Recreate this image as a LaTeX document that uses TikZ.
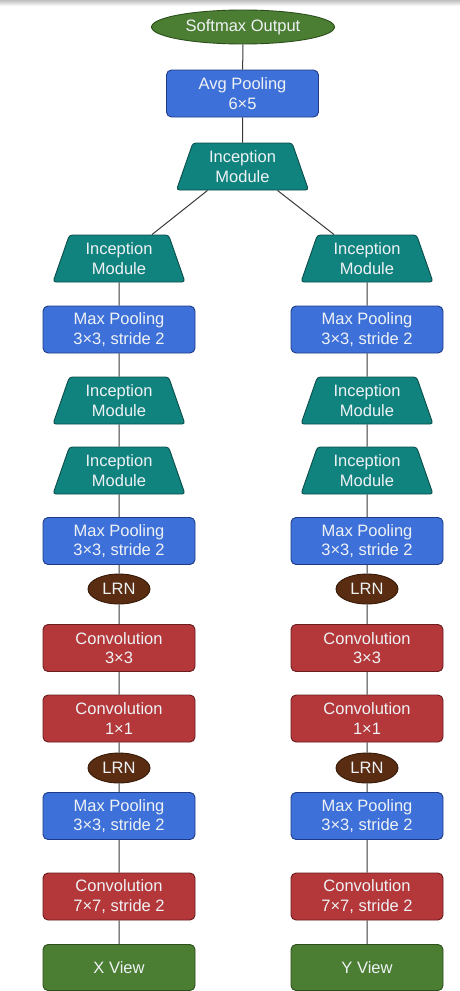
\documentclass[tikz,border=0pt]{standalone}
\usepackage{fontspec}
\setmainfont{Liberation Sans}
\usetikzlibrary{shapes.geometric,calc}
\definecolor{cgreen}{HTML}{4B7D32}
\definecolor{cgreenD}{HTML}{2C4F1C}
\definecolor{cblue}{HTML}{3E70D9}
\definecolor{cblueD}{HTML}{1E3C86}
\definecolor{cteal}{HTML}{11837F}
\definecolor{ctealD}{HTML}{0A4E4B}
\definecolor{cred}{HTML}{B4373A}
\definecolor{credD}{HTML}{6A1C1E}
\definecolor{cbrown}{HTML}{5A2D12}
\definecolor{cbrownD}{HTML}{351806}
\definecolor{ctext}{HTML}{EEF2F4}
\definecolor{cline}{HTML}{3A3A3A}
\tikzset{
  base/.style={text=ctext, align=center, font=\fontsize{16.5}{19.5}\selectfont, line width=0.9pt, inner sep=1pt},
  bluebox/.style={base, rectangle, rounded corners=5pt, fill=cblue, draw=cblueD, minimum width=152pt, minimum height=47pt},
  redbox/.style={base, rectangle, rounded corners=5pt, fill=cred, draw=credD, minimum width=152pt, minimum height=47pt},
  viewbox/.style={base, rectangle, rounded corners=5pt, fill=cgreen, draw=cgreenD, minimum width=152pt, minimum height=46pt},
  incep/.style={base, trapezium, trapezium angle=64, trapezium stretches body=true, rounded corners=3pt, fill=cteal, draw=ctealD, minimum width=132pt, minimum height=47pt},
  lrn/.style={base, ellipse, fill=cbrown, draw=cbrownD, minimum width=62pt, minimum height=30pt, inner sep=0pt},
  outell/.style={base, ellipse, fill=cgreen, draw=cgreenD, minimum width=183pt, minimum height=34pt, inner sep=0pt},
  conn/.style={draw=cline, line width=1pt}
}
\begin{document}
\begin{tikzpicture}[x=1pt,y=-1pt]
\useasboundingbox (0,0) rectangle (460,991);
\fill[white] (0,0) rectangle (460,991);
\shade[top color=black!25, bottom color=white] (0,0) rectangle (460,6);

\node[outell] (soft) at (243,27) {Softmax Output};
\node[bluebox] (avg) at (242.5,93.5) {Avg Pooling\\6×5};
\node[incep] (inc0) at (242.5,166.5) {Inception\\Module};

\foreach \c/\x/\v in {L/119/X, R/367/Y}{
  \node[incep] (inc1\c) at (\x,258.5) {Inception\\Module};
  \node[bluebox] (mp1\c) at (\x,329.5) {Max Pooling\\3×3, stride 2};
  \node[incep] (inc2\c) at (\x,400.5) {Inception\\Module};
  \node[incep] (inc3\c) at (\x,470.5) {Inception\\Module};
  \node[bluebox] (mp2\c) at (\x,541) {Max Pooling\\3×3, stride 2};
  \node[lrn] (lrn1\c) at (\x,589) {LRN};
  \node[redbox] (cva\c) at (\x,648) {Convolution\\3×3};
  \node[redbox] (cvb\c) at (\x,718.5) {Convolution\\1×1};
  \node[lrn] (lrn2\c) at (\x,768) {LRN};
  \node[bluebox] (mp3\c) at (\x,816) {Max Pooling\\3×3, stride 2};
  \node[redbox] (cvc\c) at (\x,896.5) {Convolution\\7×7, stride 2};
  \node[viewbox] (view\c) at (\x,967.5) {\v{} View};
  \draw[conn] (inc1\c) -- (mp1\c) -- (inc2\c) -- (inc3\c) -- (mp2\c) -- (lrn1\c) -- (cva\c) -- (cvb\c) -- (lrn2\c) -- (mp3\c) -- (cvc\c) -- (view\c);
}
\draw[conn] (soft) -- (avg) -- (inc0);
\draw[conn] ($(inc0.south)+(-35,0)$) -- ($(inc1L.north)+(33,0)$);
\draw[conn] ($(inc0.south)+(35,0)$) -- ($(inc1R.north)+(-33,0)$);
\end{tikzpicture}
\end{document}
